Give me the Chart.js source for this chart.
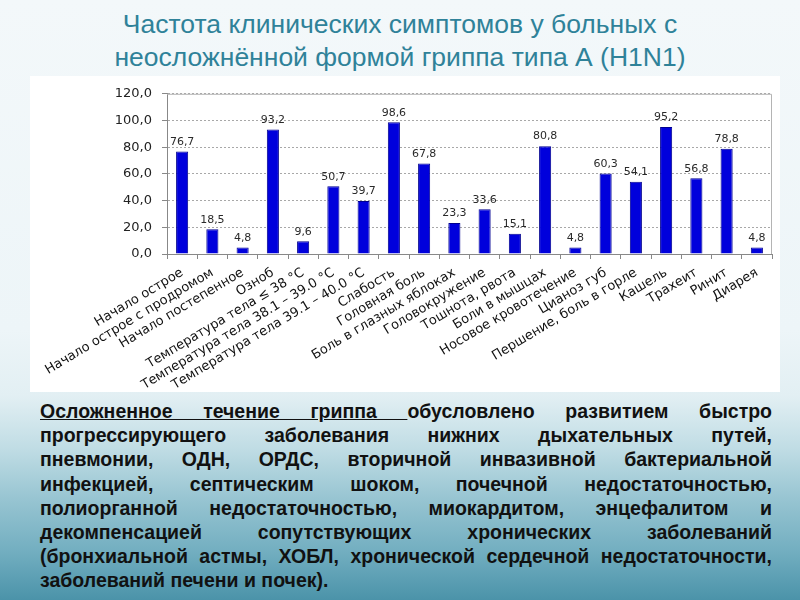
<!DOCTYPE html>
<html lang="ru">
<head>
<meta charset="utf-8">
<script src="https://cdn.jsdelivr.net/npm/chart.js@4.4.1/dist/chart.umd.min.js"></script>
<style>
  html, body { margin: 0; padding: 0; }
  body {
    width: 800px; height: 600px; overflow: hidden; position: relative;
    background: linear-gradient(to bottom, #f3f8fa 0%, #edf5f8 55%, #e2eff3 66%, #bfdce4 75%, #98c5d2 83%, #72aec0 92%, #4b93a9 100%);
    font-family: "Liberation Sans", Arial, sans-serif;
  }
  #title {
    position: absolute; left: 0; top: 8px; width: 800px;
    text-align: center; color: #2f8299;
    font-size: 26.5px; line-height: 33px;
  }
  #panel {
    position: absolute; left: 30px; top: 76px; width: 750px; height: 316px;
    background: #fff;
  }
  #note {
    position: absolute; left: 40px; top: 399px; width: 732px;
    font-weight: bold; font-size: 19.5px; line-height: 24.2px; color: #111;
  }
  #note div { white-space: nowrap; text-align: justify; text-align-last: justify; }
  #note div.last { text-align-last: left; }
</style>
</head>
<body>
<div id="title">Частота клинических симптомов у больных с<br>неосложнённой формой гриппа типа А (H1N1)</div>
<div id="panel"><canvas id="symptomChart" width="750" height="316"></canvas></div>
<div id="note">
  <div><u>Осложненное течение гриппа </u>обусловлено развитием быстро</div>
  <div>прогрессирующего заболевания нижних дыхательных путей,</div>
  <div>пневмонии, ОДН, ОРДС, вторичной инвазивной бактериальной</div>
  <div>инфекцией, септическим шоком, почечной недостаточностью,</div>
  <div>полиорганной недостаточностью, миокардитом, энцефалитом и</div>
  <div>декомпенсацией сопутствующих хронических заболеваний</div>
  <div>(бронхиальной астмы, ХОБЛ, хронической сердечной недостаточности,</div>
  <div class="last">заболеваний печени и почек).</div>
</div>

<script>
var symptoms = [
  "Начало острое",
  "Начало острое с продромом",
  "Начало постепенное",
  "Озноб",
  "Температура тела ≤ 38 °C",
  "Температура тела 38.1 – 39.0 °C",
  "Температура тела 39.1 – 40.0 °C",
  "Слабость",
  "Головная боль",
  "Боль в глазных яблоках",
  "Головокружение",
  "Тошнота, рвота",
  "Боли в мышцах",
  "Носовое кровотечение",
  "Цианоз губ",
  "Першение, боль в горле",
  "Кашель",
  "Трахеит",
  "Ринит",
  "Диарея"
];
var frequency = [76.7, 18.5, 4.8, 93.2, 9.6, 50.7, 39.7, 98.6, 67.8, 23.3, 33.6, 15.1, 80.8, 4.8, 60.3, 54.1, 95.2, 56.8, 78.8, 4.8];
var yTicks = [0, 20, 40, 60, 80, 100, 120];

function commaNum(v) {
  return Number(v).toFixed(1).replace(".", ",");
}

var plotFrame = {
  id: "plotFrame",
  beforeDatasetsDraw: function (chart) {
    var a = chart.chartArea;
    var ctx = chart.ctx;
    ctx.save();
    ctx.strokeStyle = "#b4b4b4";
    ctx.lineWidth = 1;
    ctx.beginPath();
    ctx.moveTo(a.left, a.top + 0.5);
    ctx.lineTo(a.right - 0.5, a.top + 0.5);
    ctx.lineTo(a.right - 0.5, a.bottom);
    ctx.stroke();
    ctx.restore();
  }
};

var valueLabels = {
  id: "valueLabels",
  afterDatasetsDraw: function (chart) {
    var ctx = chart.ctx;
    var meta = chart.getDatasetMeta(0);
    ctx.save();
    ctx.font = "11px 'DejaVu Sans', sans-serif";
    ctx.fillStyle = "#2a2a2a";
    ctx.textAlign = "center";
    ctx.textBaseline = "bottom";
    meta.data.forEach(function (bar, i) {
      ctx.fillText(commaNum(frequency[i]), bar.x, bar.y - 4);
    });
    ctx.restore();
  }
};

new Chart(document.getElementById("symptomChart"), {
  type: "bar",
  data: {
    labels: symptoms,
    datasets: [{
      data: frequency,
      backgroundColor: "#0000dc",
      borderColor: "#000090",
      borderWidth: 1,
      barPercentage: 0.8,
      categoryPercentage: 0.5
    }]
  },
  options: {
    responsive: false,
    animation: false,
    layout: { padding: { top: 9, right: 8, left: 0, bottom: 0 } },
    plugins: { legend: { display: false }, tooltip: { enabled: false } },
    scales: {
      x: {
        grid: { drawOnChartArea: false, drawTicks: true, tickLength: 5, color: "#888", offset: true },
        border: { color: "#888", width: 1 },
        ticks: {
          autoSkip: false, minRotation: 31, maxRotation: 31, padding: 6,
          color: "#111", font: { family: "'DejaVu Sans', sans-serif", size: 13 }
        },
        afterFit: function (scale) { scale.height = 138; }
      },
      y: {
        min: 0, max: 120,
        afterBuildTicks: function (scale) {
          scale.ticks = yTicks.map(function (v) { return { value: v }; });
        },
        grid: { color: "#a8a8a8", tickColor: "#888", tickLength: 5, tickBorderDash: [] },
        border: { color: "#888", width: 1, dash: [2, 2] },
        ticks: {
          padding: 10, color: "#222",
          font: { family: "'DejaVu Sans', sans-serif", size: 13 },
          callback: function (v) { return commaNum(v); }
        },
        afterFit: function (scale) { scale.width = 137; }
      }
    }
  },
  plugins: [plotFrame, valueLabels]
});
</script>
</body>
</html>
